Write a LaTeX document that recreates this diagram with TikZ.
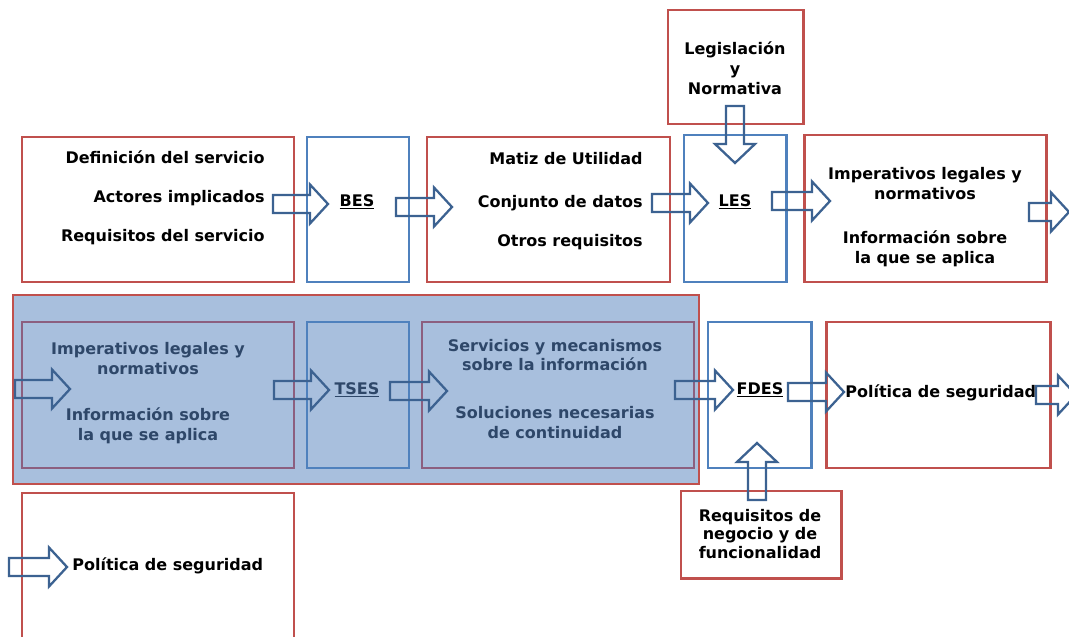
\documentclass[tikz,border=0pt]{standalone}
\usepackage{fontspec}
\setmainfont{DejaVu Sans}
\usetikzlibrary{fit}
\definecolor{boxred}{HTML}{C0504D}
\definecolor{boxblue}{HTML}{4F81BD}
\definecolor{arrowblue}{HTML}{3C6291}
\definecolor{groupfill}{HTML}{A8BFDD}
\definecolor{mutedred}{HTML}{8C5F7F}
\definecolor{mutedtext}{HTML}{2E4769}
\begin{document}
\begin{tikzpicture}[x=0.02cm,y=-0.02cm,
  box/.style={draw, line width=1.7pt, inner sep=0pt},
  redbox/.style={box, draw=boxred},
  bluebox/.style={box, draw=boxblue},
  mutedbox/.style={box, draw=mutedred},
  txt/.style={font=\fontsize{9.1}{11.3}\selectfont\bfseries, inner sep=0pt},
  arrowline/.style={draw=arrowblue, line width=1.3pt, line join=miter},
  pics/rarrow/.style={code={\draw[arrowline] (0,-9) -- (#1-18,-9) -- (#1-18,-19.5) -- (#1,0) -- (#1-18,19.5) -- (#1-18,9) -- (0,9) -- cycle;}},
  pics/darrow/.style={code={\draw[arrowline] (-9,0) -- (-9,#1-19) -- (-20,#1-19) -- (0,#1) -- (20,#1-19) -- (9,#1-19) -- (9,0) -- cycle;}},
  pics/uarrow/.style={code={\draw[arrowline] (-9,0) -- (-9,19-#1) -- (-20,19-#1) -- (0,-#1) -- (20,19-#1) -- (9,19-#1) -- (9,0) -- cycle;}},
]
\path[use as bounding box] (0,0) rectangle (1069,636);
\clip (0,0) rectangle (1069,636);
\fill[white] (0,0) rectangle (1069,636);

% ---- first row ----
\node[redbox, fit={(22,137) (294,282)}] (def) {};
\node[bluebox, fit={(307,137) (409,282)}] (bes) {};
\node[redbox, fit={(427,137) (670,282)}] (matiz) {};
\node[redbox, fit={(668,10) (803,124)}] (legis) {};
\node[bluebox, fit={(684,135) (786,282)}] (les) {};
\node[redbox, fit={(804,135) (1046,282)}] (imp) {};

\node[txt, align=right, anchor=east] (deftxt) at (265,198)
  {Definición del servicio\\[10.8pt]Actores implicados\\[11.2pt]Requisitos del servicio};
\node[txt] (bestxt) at (357,202) {\underline{BES}};
\node[txt, align=right, anchor=east] (matiztxt) at (643,201)
  {Matiz de Utilidad\\[12.8pt]Conjunto de datos\\[10.8pt]Otros requisitos};
\node[txt, align=center] (legistxt) at (735,68) {Legislación\\y\\Normativa};
\node[txt] (lestxt) at (735,202) {\underline{LES}};
\node[txt, align=center] (imptxt) at (925,217)
  {Imperativos legales y\\normativos\\[13.6pt]Información sobre\\la que se aplica};

% ---- grouped second row ----
\node[box, draw=boxred, fill=groupfill, fit={(13,295) (699,484)}] (group) {};
\node[mutedbox, fit={(22,322) (294,468)}] (impb) {};
\node[bluebox, fit={(307,322) (409,468)}] (tses) {};
\node[mutedbox, fit={(422,322) (694,468)}] (serv) {};
\node[bluebox, fit={(708,322) (811,468)}] (fdes) {};
\node[redbox, fit={(826,322) (1050,468)}] (pol) {};
\node[redbox, fit={(681,491) (841,578)}] (req) {};

\node[txt, align=center, text=mutedtext] (impbtxt) at (148,393)
  {Imperativos legales y\\normativos\\[14.7pt]Información sobre\\la que se aplica};
\node[txt, text=mutedtext] (tsestxt) at (357,390) {\underline{TSES}};
\node[txt, align=center, text=mutedtext] (servtxt) at (555,389)
  {Servicios y mecanismos\\sobre la información\\[16pt]Soluciones necesarias\\de continuidad};
\node[txt] (fdestxt) at (760,390) {\underline{FDES}};
\node[txt, anchor=west] (poltxt) at (845,393) {Política de seguridad};
\node[txt, align=center, font=\fontsize{9.1}{10.5}\selectfont\bfseries] (reqtxt) at (760,534)
  {Requisitos de\\negocio y de\\funcionalidad};

% ---- third row ----
\node[redbox, fit={(22,493) (294,660)}] (polb) {};
\node[txt, anchor=west] (polbtxt) at (72,566) {Política de seguridad};

% ---- block arrows ----
\pic (a1) at (273,204) {rarrow=55};
\pic (a2) at (396,207) {rarrow=56};
\pic (a3) at (652,203) {rarrow=56};
\pic (a4) at (772,201) {rarrow=58};
\pic (a5) at (1029,212) {rarrow=40};
\pic (alegis) at (735,106) {darrow=57};
\pic (b0) at (15,389) {rarrow=55};
\pic (b1) at (274,390) {rarrow=55};
\pic (b2) at (390,391) {rarrow=57};
\pic (b3) at (675,390) {rarrow=58};
\pic (b4) at (788,392) {rarrow=56};
\pic (b5) at (1036,395) {rarrow=40};
\pic (areq) at (757,500) {uarrow=57};
\pic (c0) at (9,567) {rarrow=58};
\end{tikzpicture}
\end{document}
